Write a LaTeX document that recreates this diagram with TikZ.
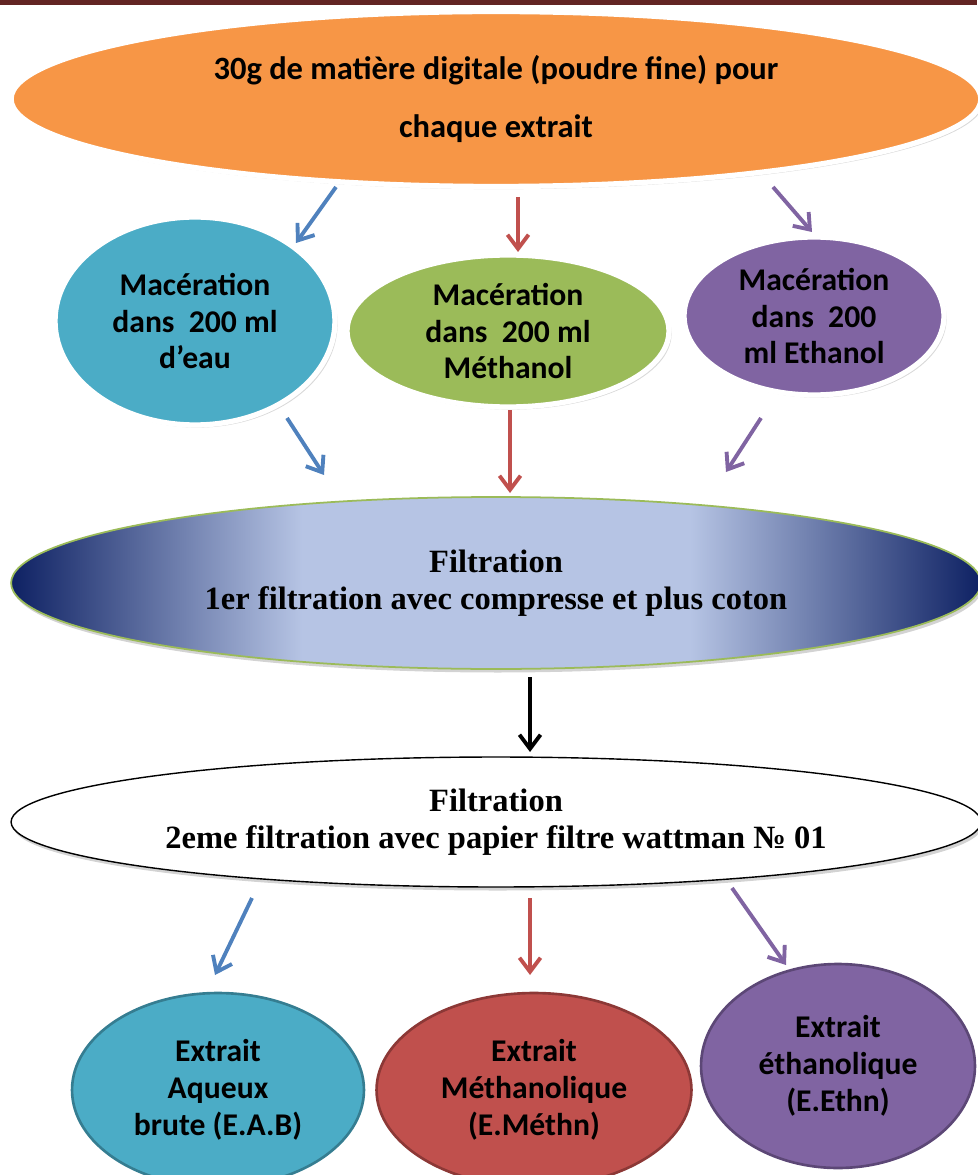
\documentclass[tikz,border=0pt]{standalone}
\usepackage{fontspec}
\setmainfont{Liberation Serif}
\newfontfamily\calib{Carlito}
\usetikzlibrary{arrows.meta,shapes.geometric,shadows}

\definecolor{barre}{HTML}{632523}
\definecolor{orangefill}{HTML}{F79646}
\definecolor{bleufill}{HTML}{4BACC6}
\definecolor{bleudark}{HTML}{357D91}
\definecolor{vertfill}{HTML}{9BBB59}
\definecolor{violetfill}{HTML}{8064A2}
\definecolor{violetdark}{HTML}{5C4776}
\definecolor{rougefill}{HTML}{C0504D}
\definecolor{rougedark}{HTML}{8C3836}
\definecolor{flechebleu}{HTML}{4F81BD}
\definecolor{navybord}{HTML}{0E2163}
\definecolor{lavande}{HTML}{B6C4E4}

\pgfdeclarehorizontalshading{filtreshade}{100bp}{color(0bp)=(navybord); color(25bp)=(navybord); color(40bp)=(lavande); color(60bp)=(lavande); color(75bp)=(navybord); color(100bp)=(navybord)}

\tikzset{
	bulle/.style={ellipse, inner sep=0pt, align=center, font=\calib\bfseries\fontsize{18}{21}\selectfont},
	macer/.style={bulle, draw=white, line width=3pt, drop shadow={opacity=0.3, shadow xshift=1.5pt, shadow yshift=-1.5pt}},
	extrait/.style={bulle, line width=1.5pt},
	filtre/.style={ellipse, inner sep=0pt, align=center, minimum width=19.4cm, font=\bfseries\fontsize{18.5}{21}\selectfont, drop shadow={opacity=0.35, shadow xshift=1pt, shadow yshift=-2pt}},
	fleche/.style={line width=2.2pt, -{Straight Barb[length=8pt,width=12pt]}},
}

\begin{document}
\begin{tikzpicture}[x=0.02cm,y=-0.02cm]
	\useasboundingbox (0,0) rectangle (977,1175);
	\fill[barre] (0,0) rectangle (977,5);

	% les noeuds
	\node[macer, fill=orangefill, minimum width=19.4cm, minimum height=3.5cm, font=\calib\bfseries\fontsize{18.5}{21}\selectfont] (matiere) at (496,99) {30g de matière digitale (poudre fine) pour\\[12pt]chaque extrait};

	\node[macer, fill=bleufill, minimum width=5.6cm, minimum height=4.16cm] (eau) at (195,321) {Macération\\dans~ 200 ml\\d’eau};
	\node[macer, fill=vertfill, minimum width=6.44cm, minimum height=3.04cm] (methanol) at (508,331) {Macération\\dans~ 200 ml\\Méthanol};
	\node[macer, fill=violetfill, minimum width=5.2cm, minimum height=3.16cm] (ethanol) at (814,316) {Macération\\dans~ 200\\ml Ethanol};

	\node[filtre, shading=filtreshade, draw=vertfill, line width=1pt, minimum height=3.44cm] (filtre1) at (496,583) {Filtration\\1er filtration avec compresse et plus coton};
	\node[filtre, fill=white, draw=black, line width=0.8pt, minimum height=2.6cm] (filtre2) at (496,822) {Filtration\\2eme filtration avec papier filtre wattman № 01};

	\node[extrait, fill=bleufill, draw=bleudark, minimum width=5.84cm, minimum height=3.88cm] (eab) at (218,1090) {Extrait\\Aqueux\\brute (E.A.B)};
	\node[extrait, fill=rougefill, draw=rougedark, minimum width=6.3cm, minimum height=3.88cm] (emethn) at (534,1090) {Extrait\\Méthanolique\\(E.Méthn)};
	\node[extrait, fill=violetfill, draw=violetdark, minimum width=5.48cm, minimum height=4.08cm] (eethn) at (838,1066) {Extrait\\éthanolique\\(E.Ethn)};

	% extremites des fleches
	\coordinate (m1) at (336,187); \coordinate (e1) at (296,243);
	\coordinate (m2) at (518,197); \coordinate (e2) at (518,252);
	\coordinate (m3) at (773,187); \coordinate (e3) at (812,232);
	\coordinate (f1) at (287,418); \coordinate (g1) at (324,475);
	\coordinate (f2) at (510,410); \coordinate (g2) at (510,493);
	\coordinate (f3) at (761,418); \coordinate (g3) at (726,472);
	\coordinate (p1) at (530,677); \coordinate (p2) at (530,752);
	\coordinate (x1) at (252,898); \coordinate (y1) at (215,975);
	\coordinate (x2) at (530,898); \coordinate (y2) at (530,975);
	\coordinate (x3) at (732,888); \coordinate (y3) at (786,965);

	\draw[fleche, flechebleu] (m1) -- (e1);
	\draw[fleche, rougefill] (m2) -- (e2);
	\draw[fleche, violetfill] (m3) -- (e3);
	\draw[fleche, flechebleu] (f1) -- (g1);
	\draw[fleche, rougefill] (f2) -- (g2);
	\draw[fleche, violetfill] (f3) -- (g3);
	\draw[fleche, black] (p1) -- (p2);
	\draw[fleche, flechebleu] (x1) -- (y1);
	\draw[fleche, rougefill] (x2) -- (y2);
	\draw[fleche, violetfill] (x3) -- (y3);
\end{tikzpicture}
\end{document}
